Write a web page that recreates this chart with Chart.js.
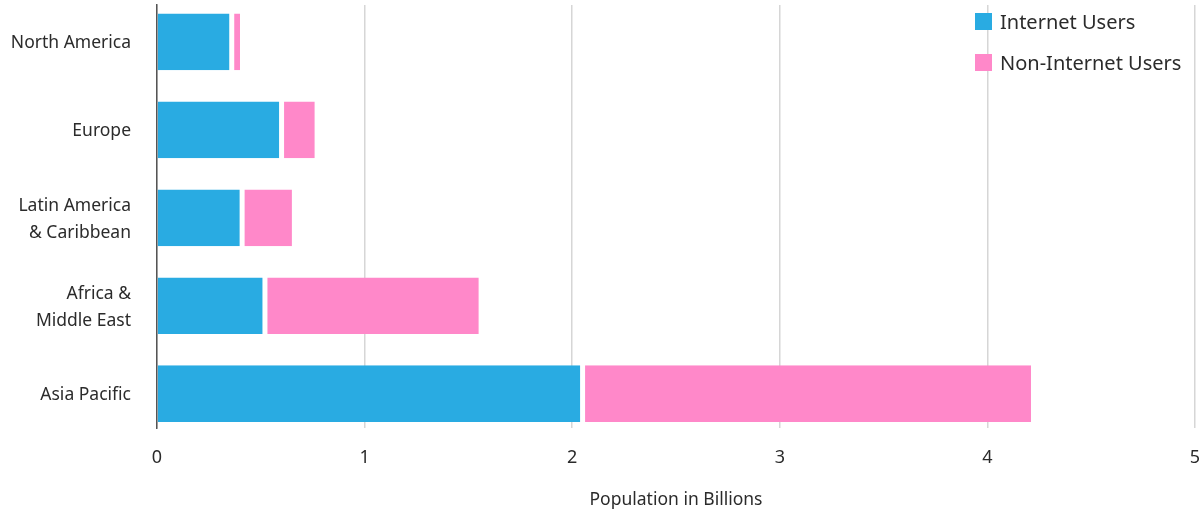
<!DOCTYPE html>
<html>
<head>
<meta charset="utf-8">
<title>Internet Users by Region</title>
<script src="https://cdn.jsdelivr.net/npm/chart.js@4.4.1/dist/chart.umd.min.js"></script>
<style>
  html, body { margin: 0; padding: 0; background: #ffffff; }
  #wrap { position: relative; width: 1203px; height: 512px; }
  #legend { position: absolute; left: 975px; top: 11px; font-family: 'Noto Sans', sans-serif; font-size: 20px; color: #2b2b2b; }
  #legend .item { display: flex; align-items: center; height: 20px; margin-bottom: 21.5px; white-space: nowrap; }
  #legend .swatch { width: 17px; height: 17px; margin-right: 8px; flex: none; }
</style>
</head>
<body>
<div id="wrap">
  <canvas id="chart" width="1203" height="512"></canvas>
  <div id="legend"></div>
</div>
<script>
// Regions, top to bottom
const regions = [
  ['North America'],
  ['Europe'],
  ['Latin America', '& Caribbean'],
  ['Africa &', 'Middle East'],
  ['Asia Pacific']
];
// Population in billions
const internetUsers    = [0.36, 0.60, 0.41, 0.52, 2.05];
const nonInternetUsers = [0.04, 0.16, 0.24, 1.03, 2.16];
const xTicks = [0, 1, 2, 3, 4, 5];

const seriesNames  = ['Internet Users', 'Non-Internet Users'];
const seriesColors = ['#29abe2', '#ff88c9'];

const FONT = "'Noto Sans', sans-serif";
const TEXT = '#2b2b2b';

// Each bar sits at its region's index on a linear y axis
const toPoints = vals => vals.map((v, i) => ({ x: v, y: i }));

const chart = new Chart(document.getElementById('chart'), {
  type: 'bar',
  data: {
    datasets: [
      {
        label: seriesNames[0],
        data: toPoints(internetUsers),
        backgroundColor: seriesColors[0],
        borderColor: '#ffffff',
        borderWidth: { top: 0, bottom: 0, left: 0, right: 2.5 },
        borderSkipped: false,
        stack: 'pop'
      },
      {
        label: seriesNames[1],
        data: toPoints(nonInternetUsers),
        backgroundColor: seriesColors[1],
        borderColor: '#ffffff',
        borderWidth: { top: 0, bottom: 0, left: 2.5, right: 0 },
        borderSkipped: false,
        stack: 'pop'
      }
    ]
  },
  options: {
    indexAxis: 'y',
    responsive: false,
    devicePixelRatio: 1,
    animation: false,
    layout: { padding: { top: 5, right: 8, bottom: 0, left: 0 } },
    datasets: { bar: { barPercentage: 0.645, categoryPercentage: 1 } },
    scales: {
      x: {
        type: 'linear',
        stacked: true,
        min: xTicks[0],
        max: xTicks[xTicks.length - 1],
        afterBuildTicks: s => { s.ticks = xTicks.map(v => ({ value: v })); },
        afterFit: s => { s.height = 84; s.paddingLeft = 0; s.paddingRight = 0; },
        grid: { color: '#d6d6d6', lineWidth: 1.5, drawTicks: false },
        border: { display: false },
        ticks: { padding: 19, color: TEXT, font: { family: FONT, size: 18 } },
        title: {
          display: true,
          text: 'Population in Billions',
          color: TEXT,
          font: { family: FONT, size: 17.5 },
          padding: { top: 0, bottom: 1 }
        }
      },
      y: {
        type: 'linear',
        bounds: 'data',
        offset: false,
        reverse: true,
        min: -0.42,
        max: 4.39,
        afterBuildTicks: s => { s.ticks = regions.map((r, i) => ({ value: i })); },
        afterFit: s => { s.width = 157; s.paddingTop = 0; s.paddingBottom = 0; },
        grid: { display: false, drawTicks: false },
        border: { display: true, color: '#555555', width: 1.5 },
        ticks: {
          padding: 26,
          labelOffset: 1.5,
          color: TEXT,
          font: { family: FONT, size: 17.5, lineHeight: 1.54 },
          callback: v => regions[v]
        }
      }
    },
    plugins: {
      legend: { display: false },
      tooltip: { enabled: false }
    }
  }
});

// Legend built from the chart's own legend items
const legendEl = document.getElementById('legend');
chart.options.plugins.legend.labels.generateLabels(chart).forEach(item => {
  const row = document.createElement('div');
  row.className = 'item';
  const sw = document.createElement('span');
  sw.className = 'swatch';
  sw.style.background = item.fillStyle;
  const tx = document.createElement('span');
  tx.textContent = item.text;
  row.appendChild(sw);
  row.appendChild(tx);
  legendEl.appendChild(row);
});
</script>
</body>
</html>
